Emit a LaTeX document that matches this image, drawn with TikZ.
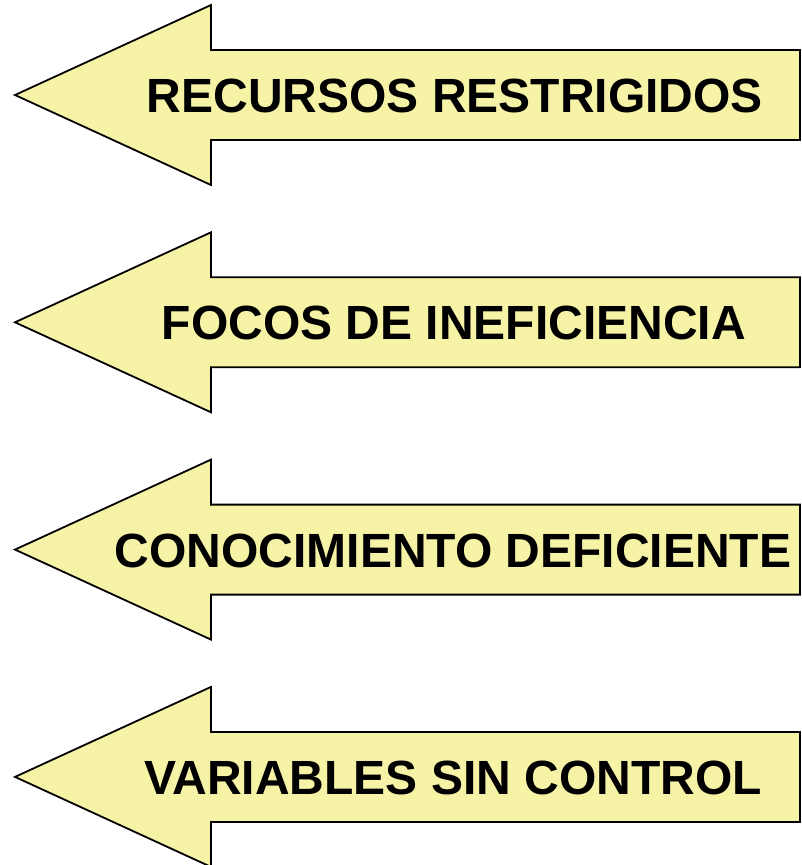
\documentclass[tikz,border=0pt]{standalone}
\usepackage{fontspec}
\setmainfont{Liberation Sans}
\definecolor{arrowfill}{RGB}{247,243,166}
\begin{document}
\begin{tikzpicture}[x=1pt,y=-1pt,
  arrowshape/.style={draw=black,line width=1.8pt,fill=arrowfill,line join=miter},
  label/.style={font=\fontsize{48}{56}\selectfont\bfseries,inner sep=0pt}]
\useasboundingbox (0,0) rectangle (802,865);
\foreach \i/\txt/\cx in {0/RECURSOS RESTRIGIDOS/455,1/FOCOS DE INEFICIENCIA/454,2/CONOCIMIENTO DEFICIENTE/453,3/VARIABLES SIN CONTROL/453}{
  \pgfmathsetmacro{\cy}{95+227.3*\i}
  \draw[arrowshape] (15,\cy) -- (211,\cy-90) -- (211,\cy-45) -- (800,\cy-45) -- (800,\cy+45) -- (211,\cy+45) -- (211,\cy+90) -- cycle;
  \node[label] (t\i) at (\cx,\cy+1) {\txt};
}
\end{tikzpicture}
\end{document}
